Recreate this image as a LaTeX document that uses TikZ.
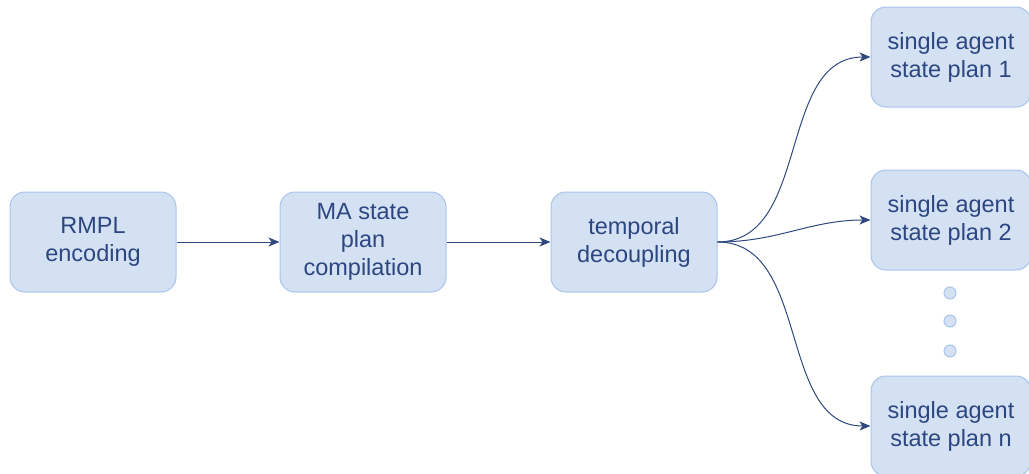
\documentclass[tikz,border=0pt]{standalone}
\usepackage{fontspec}
\setmainfont{Liberation Sans}
\definecolor{boxfill}{RGB}{212,225,242}
\definecolor{boxline}{RGB}{169,196,235}
\definecolor{inkblue}{RGB}{44,70,130}
\definecolor{edgeblue}{RGB}{48,72,128}
\tikzset{
    planbox/.style={rectangle, rounded corners=15pt, draw=boxline, fill=boxfill, line width=1pt,
        minimum width=166pt, minimum height=100pt, align=center, text=inkblue,
        font=\fontsize{23.5}{28}\selectfont},
    dotmark/.style={circle, draw=boxline, fill=boxfill, line width=1pt, minimum size=12pt, inner sep=0pt},
    flow/.style={-{Stealth[length=11pt,width=9pt,inset=3pt]}, draw=edgeblue, line width=1pt}
}
\usetikzlibrary{arrows.meta}
\begin{document}
\begin{tikzpicture}[x=1pt, y=-1pt]
    \useasboundingbox (0,0) rectangle (1029,474);

    % Pipeline stages
    \node[planbox] (rmpl) at (93,242) {RMPL\\encoding};
    \node[planbox] (mastate) at (363,242) {MA state\\plan\\compilation};
    \node[planbox] (decouple) at (634,242) {temporal\\decoupling};

    % Single agent plans
    \node[planbox, minimum width=160pt] (sap1) at (951,57) {single agent\\state plan 1};
    \node[planbox, minimum width=160pt] (sap2) at (951,220) {single agent\\state plan 2};
    \node[planbox, minimum width=160pt] (sapn) at (951,426) {single agent\\state plan n};

    % Ellipsis
    \node[dotmark] (dot1) at (950,293) {};
    \node[dotmark] (dot2) at (950,321) {};
    \node[dotmark] (dot3) at (950,351) {};

    % Connectors
    \draw[flow] (rmpl) -- (mastate);
    \draw[flow] (mastate) -- (decouple);
    \draw[flow] (decouple.east) to[out=0, in=180] (sap1.west);
    \draw[flow] (decouple.east) to[out=0, in=180] (sap2.west);
    \draw[flow] (decouple.east) to[out=0, in=180] (sapn.west);
\end{tikzpicture}
\end{document}
